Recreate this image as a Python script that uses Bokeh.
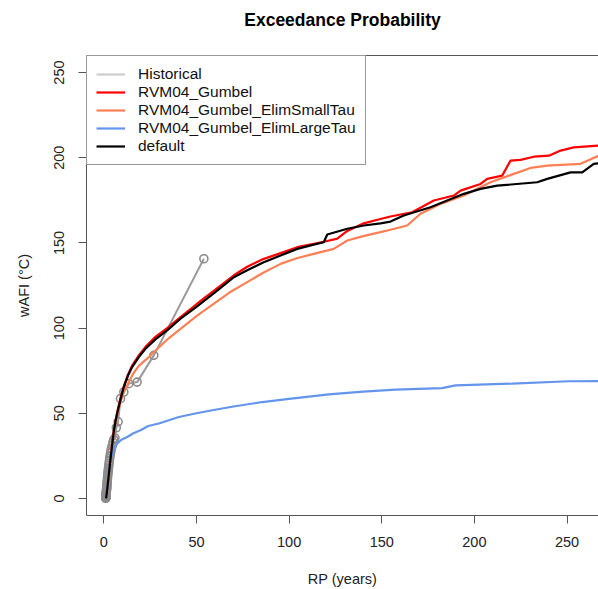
from bokeh.plotting import figure
from bokeh.models import Legend, LegendItem, Range1d, FixedTicker, LinearAxis
from bokeh.embed import file_html
from bokeh.resources import INLINE

# ---------------- data ----------------
hist_rp = [54.0, 27.0, 18.0, 13.5, 10.8, 9.0, 7.71, 6.75, 6.0, 5.4, 4.91, 4.5,
           4.15, 3.86, 3.6, 3.38, 3.18, 3.0, 2.84, 2.7, 2.57, 2.45, 2.35, 2.25,
           2.16, 2.08, 2.0, 1.93, 1.86, 1.8, 1.74, 1.69, 1.64, 1.59, 1.54, 1.5,
           1.46, 1.42, 1.38, 1.35, 1.32, 1.29, 1.26, 1.23, 1.2, 1.17, 1.15, 1.13,
           1.1, 1.08, 1.06, 1.04, 1.02]
hist_wafi = [140.7, 84.0, 68.3, 67.4, 62.5, 58.6, 45.0, 41.5, 35.5, 34.5, 33.0, 31.0,
             29.5, 28.0, 26.5, 25.0, 23.5, 22.0, 20.5, 19.5, 18.0, 17.0, 16.0, 15.0,
             14.0, 13.0, 12.0, 11.0, 10.0, 9.5, 8.5, 8.0, 7.0, 6.5, 6.0, 5.5, 5.0,
             4.5, 4.0, 3.5, 3.0, 2.7, 2.4, 2.0, 1.7, 1.4, 1.1, 0.9, 0.7, 0.5, 0.3,
             0.2, 0.1]

gumbel_rp = [1.2, 1.6, 2.0, 2.5, 3.0, 3.6, 4.5, 5.4, 6.3, 7.2, 9.0, 10.8, 13.0, 15.3,
             18.9, 22.5, 28.0, 34.2, 41.4, 50.0, 60.0, 70.2, 77.4, 86.0, 95.4, 104.4,
             113.3, 120.0, 126.0, 131.4, 140.3, 149.3, 154.7, 166.4, 178.1, 188.9,
             192.5, 203.3, 206.9, 215.0, 219.5, 224.9, 232.1, 240.2, 246.5, 253.6, 267.0]
gumbel_wafi = [0.0, 3.5, 8.0, 13.0, 18.0, 24.0, 32.5, 40.0, 45.5, 50.5, 59.0, 66.0,
               72.5, 78.0, 84.0, 89.0, 95.0, 100.0, 106.5, 114.0, 122.5, 131.0, 136.0,
               140.5, 144.0, 147.5, 149.5, 151.0, 152.5, 157.0, 161.5, 164.0, 165.5,
               168.0, 174.9, 177.8, 180.7, 184.6, 187.6, 189.5, 198.3, 198.7, 200.6,
               201.2, 204.2, 206.1, 207.1]

small_rp = [1.2, 1.6, 2.0, 2.5, 3.0, 3.6, 4.5, 5.4, 6.3, 7.2, 9.0, 10.8, 13.5, 16.0,
            19.0, 24.3, 30.0, 35.0, 41.4, 50.0, 59.4, 68.0, 77.4, 86.0, 95.4, 104.0,
            113.3, 124.1, 131.4, 140.0, 149.3, 154.7, 163.7, 170.9, 181.7, 194.3,
            208.7, 221.3, 230.3, 239.3, 257.3, 267.0]
small_wafi = [0.0, 3.5, 8.0, 13.0, 18.0, 24.0, 32.0, 39.0, 44.0, 48.5, 56.5, 62.5,
              68.3, 73.5, 78.0, 83.0, 89.0, 94.0, 99.6, 107.0, 114.3, 121.0, 127.0,
              132.5, 137.7, 141.0, 143.6, 146.5, 151.4, 154.0, 156.3, 157.7, 160.2,
              167.1, 172.9, 177.8, 185.6, 190.5, 194.0, 195.4, 196.4, 201.2]

large_rp = [1.2, 1.5, 1.8, 2.2, 2.7, 3.6, 4.5, 5.4, 7.2, 9.5, 12.6, 16.0, 19.8, 24.0,
            29.7, 40.5, 50.0, 58.5, 70.0, 85.5, 100.0, 121.4, 140.0, 157.4, 182.6,
            189.8, 220.4, 251.0, 267.0]
large_wafi = [0.0, 2.0, 5.0, 11.0, 17.0, 22.5, 26.4, 29.0, 32.2, 34.5, 36.1, 38.3,
              40.0, 42.5, 44.0, 47.8, 50.0, 51.8, 54.0, 56.6, 58.5, 61.1, 62.7, 63.9,
              64.8, 66.4, 67.4, 68.8, 68.9]

default_rp = [1.2, 1.6, 2.0, 2.5, 3.0, 3.6, 4.5, 5.4, 6.3, 7.2, 9.0, 10.8, 13.0, 15.3,
              18.9, 22.5, 28.0, 34.2, 41.4, 50.0, 60.0, 70.2, 77.4, 86.0, 95.4, 104.4,
              113.3, 118.7, 120.6, 131.4, 140.3, 149.3, 154.7, 161.9, 176.3, 194.3,
              203.3, 212.3, 233.9, 239.3, 251.9, 258.2, 264.4, 267.0]
default_wafi = [0.0, 3.0, 7.0, 12.0, 17.0, 23.0, 31.5, 39.5, 45.0, 49.8, 58.0, 65.4,
                72.0, 77.1, 83.0, 87.9, 93.5, 98.7, 105.5, 112.5, 121.0, 129.9, 134.0,
                138.5, 142.6, 146.5, 149.0, 150.4, 154.9, 158.3, 160.2, 161.5, 162.5,
                166.1, 170.9, 178.8, 181.7, 183.6, 185.6, 187.6, 191.4, 191.4, 196.4,
                196.7]

x_ticks = [0, 50, 100, 150, 200, 250]
y_ticks = [0, 50, 100, 150, 200, 250]
title_text = "Exceedance Probability"

FONT = "Liberation Sans"
AX = "#555555"
X0, X1 = -9.34, 266.97
Y0, Y1 = -10.0, 260.0

p = figure(width=598, height=589, output_backend="svg", toolbar_location=None,
           x_range=Range1d(X0, X1), y_range=Range1d(Y0, Y1),
           min_border_left=86, min_border_right=0, min_border_top=55,
           min_border_bottom=74)
p.background_fill_color = "white"
p.border_fill_color = "white"
p.outline_line_color = None
p.grid.visible = False

for ax in (p.xaxis[0], p.yaxis[0]):
    ax.axis_line_color = AX
    ax.major_tick_line_color = AX
    ax.minor_tick_line_color = None
    ax.major_tick_in = 0
    ax.major_tick_out = 8
    ax.major_label_text_font = FONT
    ax.major_label_text_font_size = "14.5px"
    ax.major_label_text_color = "#222222"
    ax.axis_label_text_font = FONT
    ax.axis_label_text_font_size = "14.5px"
    ax.axis_label_text_font_style = "normal"
    ax.axis_label_text_color = "#222222"

p.xaxis.ticker = FixedTicker(ticks=x_ticks)
p.yaxis.ticker = FixedTicker(ticks=y_ticks)
p.xaxis.axis_label = "RP (years)"
p.yaxis.axis_label = "wAFI (\u00b0C)"
p.yaxis.major_label_orientation = "vertical"
p.xaxis.major_label_standoff = 13
p.yaxis.major_label_standoff = 14
p.xaxis.axis_label_standoff = 21
p.yaxis.axis_label_standoff = 20

# top side of the box, carrying the chart title as its label
top = LinearAxis(ticker=FixedTicker(ticks=[]), axis_label=title_text)
top.axis_line_color = AX
top.major_tick_line_color = None
top.minor_tick_line_color = None
top.major_tick_out = 0
top.major_tick_in = 0
top.major_label_standoff = 0
top.major_label_text_font_size = "0px"
top.axis_label_standoff = 26
top.axis_label_text_font = FONT
top.axis_label_text_font_size = "17.5px"
top.axis_label_text_font_style = "bold"
top.axis_label_text_color = "#000000"
p.add_layout(top, "above")

# series
p.line(hist_rp, hist_wafi, line_color="#9a9a9a", line_width=2)
p.scatter(hist_rp, hist_wafi, marker="circle", size=8, fill_color=None,
          line_color="#8c8c8c", line_width=1.6)
r_g = p.line(gumbel_rp, gumbel_wafi, line_color="#FF0000", line_width=2.2)
r_s = p.line(small_rp, small_wafi, line_color="#FF7F55", line_width=2.2)
r_l = p.line(large_rp, large_wafi, line_color="#6495ED", line_width=2.2)
r_d = p.line(default_rp, default_wafi, line_color="#000000", line_width=2.2)
# legend-only glyph for Historical (a single point draws no visible line)
r_h = p.line(hist_rp[:1], hist_wafi[:1], line_color="#cccccc", line_width=2.2)

legend = Legend(items=[
    LegendItem(label="Historical", renderers=[r_h]),
    LegendItem(label="RVM04_Gumbel", renderers=[r_g]),
    LegendItem(label="RVM04_Gumbel_ElimSmallTau", renderers=[r_s]),
    LegendItem(label="RVM04_Gumbel_ElimLargeTau", renderers=[r_l]),
    LegendItem(label="default", renderers=[r_d]),
], location="top_left")
legend.margin = 0
legend.padding = 9
legend.spacing = 0
legend.glyph_width = 29
legend.glyph_height = 18
legend.label_height = 18
legend.label_standoff = 13
legend.label_text_font = FONT
legend.label_text_font_size = "15.5px"
legend.label_text_color = "#111111"
legend.border_line_color = "#333333"
legend.border_line_width = 1
legend.background_fill_color = "white"
legend.background_fill_alpha = 1.0
p.add_layout(legend)

open("out.html", "w").write(file_html(p, INLINE))
